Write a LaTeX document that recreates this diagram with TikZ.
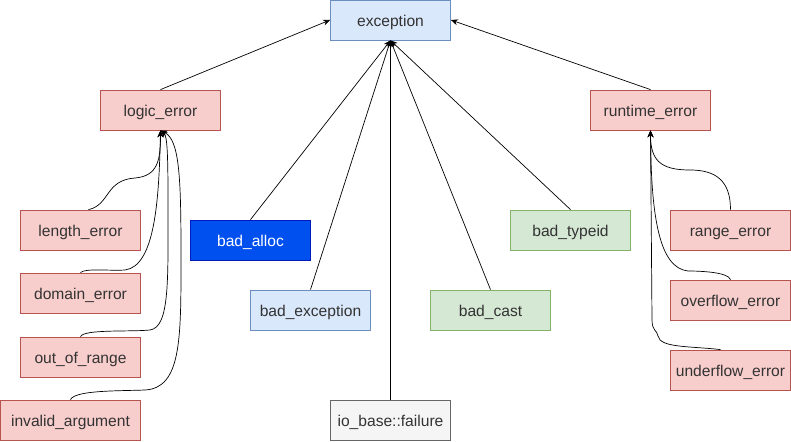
\documentclass[tikz,border=0pt]{standalone}
\usepackage{fontspec}
\setmainfont{Liberation Sans}
\usetikzlibrary{arrows.meta}

\definecolor{vermFundo}{HTML}{F8CECC}
\definecolor{vermBorda}{HTML}{B85450}
\definecolor{azulFundo}{HTML}{DAE8FC}
\definecolor{azulBorda}{HTML}{6C8EBF}
\definecolor{verdeFundo}{HTML}{D5E8D4}
\definecolor{verdeBorda}{HTML}{82B366}
\definecolor{cinzaFundo}{HTML}{F5F5F5}
\definecolor{cinzaBorda}{HTML}{666666}
\definecolor{fortFundo}{HTML}{0050EF}
\definecolor{fortBorda}{HTML}{001DBC}
\definecolor{texto}{HTML}{333333}

\begin{document}
\begin{tikzpicture}[
    x=1pt,y=-1pt,
    font=\fontsize{15.6}{17}\selectfont,
    classe/.style={rectangle,draw,line width=0.8pt,minimum width=120pt,minimum height=40pt,inner sep=0pt,text height=12.5pt,text depth=0pt,text=texto},
    erro/.style={classe,fill=vermFundo,draw=vermBorda},
    base/.style={classe,fill=azulFundo,draw=azulBorda},
    tipo/.style={classe,fill=verdeFundo,draw=verdeBorda},
    io/.style={classe,fill=cinzaFundo,draw=cinzaBorda},
    memoria/.style={classe,fill=fortFundo,draw=fortBorda,text=white},
    heranca/.style={-{Stealth[length=7pt,width=6pt]},line width=0.7pt}
]
\useasboundingbox (0,0) rectangle (791,441);

\node[base] (exception) at (390.5,20) {exception};
\node[erro] (logic_error) at (160.5,110) {logic\_error};
\node[erro] (runtime_error) at (650.5,110) {runtime\_error};

\node[erro] (length_error) at (80.5,230) {length\_error};
\node[erro] (domain_error) at (80.5,293) {domain\_error};
\node[erro] (out_of_range) at (80.5,357) {out\_of\_range};
\node[erro,minimum width=140pt] (invalid_argument) at (70.5,420) {invalid\_argument};

\node[memoria] (bad_alloc) at (250.5,240) {bad\_alloc};
\node[base] (bad_exception) at (310.5,310) {bad\_exception};
\node[io] (failure) at (390.5,420) {io\_base::failure};
\node[tipo] (bad_cast) at (490.5,310) {bad\_cast};
\node[tipo] (bad_typeid) at (570.5,230) {bad\_typeid};

\node[erro] (range_error) at (730.5,230) {range\_error};
\node[erro] (overflow_error) at (730.5,300) {overflow\_error};
\node[erro] (underflow_error) at (730.5,370) {underflow\_error};

% ramos principais
\draw[heranca] (logic_error.north) -- (exception.west);
\draw[heranca] (runtime_error.north) -- (exception.east);
\draw[heranca] (bad_alloc.north) -- (exception.south);
\draw[heranca] (bad_exception.north) -- (exception.south);
\draw[heranca] (failure.north) -- (exception.south);
\draw[heranca] (bad_cast.north) -- (exception.south);
\draw[heranca] (bad_typeid.north) -- (exception.south);

% logic_error
\draw[heranca] ([xshift=8]length_error.north) .. controls (110,205) and (105,180) .. (135,178)
    .. controls (158,176) and (160.5,160) .. (logic_error.south);
\draw[heranca] (domain_error.north) .. controls (85,268) and (110,271) .. (125,270)
    .. controls (155,266) and (159,200) .. (logic_error.south);
\draw[heranca] (out_of_range.north) .. controls (84,329) and (130,332) .. (150,330)
    .. controls (170,327) and (168,280) .. (168,200) .. controls (168,150) and (167,136) .. (logic_error.south);
\draw[heranca] (invalid_argument.north) .. controls (75,390) and (120,391) .. (145,390)
    .. controls (181,388) and (181,340) .. (181,260) .. controls (181,180) and (180,140) .. (logic_error.south);

% runtime_error
\draw[heranca] (range_error.north) .. controls (730.5,180) and (715,170) .. (690,170)
    .. controls (660,170) and (650.5,160) .. (runtime_error.south);
\draw[heranca] (overflow_error.north) .. controls (728,272) and (700,271) .. (688,271)
    .. controls (660,268) and (651,220) .. (runtime_error.south);
\draw[heranca] ([xshift=-10]underflow_error.north) .. controls (690,346) and (660,348) .. (658,336)
    .. controls (657,330) and (652,331) .. (652,320) -- (runtime_error.south);
\end{tikzpicture}
\end{document}
